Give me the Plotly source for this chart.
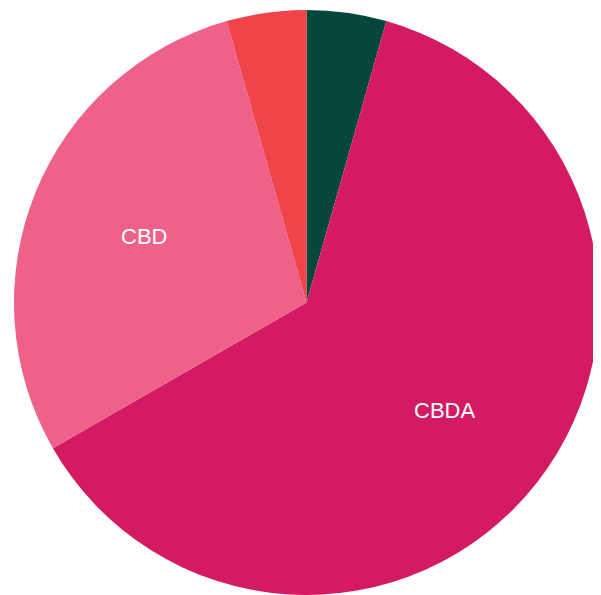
import math
import plotly.graph_objects as go

labels = ["THCA", "CBDA", "CBD", "THC"]
values = [4.4, 62.3, 28.9, 4.4]
slice_text = ["", "CBDA", "CBD", ""]
colors = ["#05473b", "#d31a62", "#ee6189", "#ef4449"]

fig = go.Figure(go.Pie(
    labels=labels,
    values=values,
    textinfo="none",
    sort=False,
    direction="clockwise",
    rotation=0,
    marker=dict(colors=colors, line=dict(width=0)),
    showlegend=False,
))

# labels placed at the middle angle of each slice, ~60% of the radius
total = sum(values)
cum = 0.0
annotations = []
for v, t in zip(values, slice_text):
    mid = (cum + v / 2) / total * 2 * math.pi
    cum += v
    if not t:
        continue
    annotations.append(dict(
        x=0.5 + 0.5 * 0.6 * math.sin(mid),
        y=0.5 + 0.5 * 0.6 * math.cos(mid),
        xref="paper", yref="paper", text=t, showarrow=False,
        xanchor="center", yanchor="middle",
        font=dict(color="white", size=22, family="Liberation Sans, Arial, sans-serif"),
    ))

fig.update_layout(
    width=593, height=587,
    margin=dict(l=6, r=2, t=2, b=0),
    paper_bgcolor="white",
    annotations=annotations,
)
fig.write_html("out.html")
